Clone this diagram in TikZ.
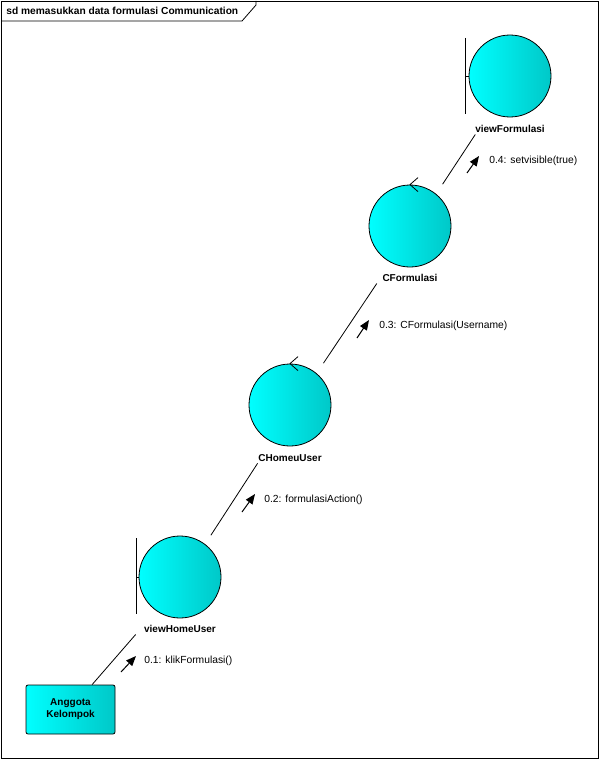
\documentclass[tikz,border=0pt]{standalone}
\usepackage{fontspec}
\setmainfont{Liberation Sans}
\usetikzlibrary{arrows.meta,fit}

\definecolor{objlight}{RGB}{0,255,255}
\definecolor{objdark}{RGB}{0,200,200}

\begin{document}
\begin{tikzpicture}[ x=1pt, y=-1pt, line width=0.8pt, >=Stealth,
    font=\fontsize{10.3}{12}\selectfont,
    obj/.style={circle, draw, minimum size=82pt, inner sep=0pt, left color=objlight, right color=objdark},
    actorbox/.style={draw, rounded corners=2pt, minimum width=89pt, minimum height=49pt, left color=objlight, right color=objdark, align=center, font=\fontsize{10}{12}\selectfont\bfseries},
    objname/.style={inner sep=1pt, font=\fontsize{10}{12}\selectfont\bfseries},
    elem/.style={inner sep=0pt},
    msg/.style={-{Triangle[length=10pt,width=8pt]}, line width=1pt},
    msglabel/.style={anchor=west, inner sep=0pt} ]
    \useasboundingbox (0,0) rectangle (600,760);

    % Frame
    \draw (1,1) rectangle (598.5,758.5);
    \draw (1,21) -- (242,21) -- (256,5) -- (256,1);
    \node[anchor=west, inner sep=0pt, font=\fontsize{10.2}{12}\selectfont\bfseries] (title) at (6,11) {sd memasukkan data formulasi Communication};

    % --- viewFormulasi (boundary) ---
    \node[obj] (vf) at (510,76) {};
    \node[objname] (vfl) at (510,129) {viewFormulasi};
    \coordinate (vfbar1) at (465,38);
    \coordinate (vfbar2) at (465,114);
    \draw (vfbar1) -- (vfbar2);
    \draw (465,76) -- (vf.west);
    \node[elem, fit=(vf)(vfl)(vfbar1)(vfbar2)] (vfbox) {};

    % --- CFormulasi (control) ---
    \node[obj] (cf) at (410,226) {};
    \node[objname] (cfl) at (410,278) {CFormulasi};
    \draw ([shift={(8,-7)}]cf.north) -- (cf.north) -- ([shift={(8,7)}]cf.north);
    \node[elem, fit=(cf)(cfl)] (cfbox) {};

    % --- CHomeuUser (control) ---
    \node[obj] (chu) at (290,405) {};
    \node[objname] (chul) at (290,458) {CHomeuUser};
    \draw ([shift={(8,-7)}]chu.north) -- (chu.north) -- ([shift={(8,7)}]chu.north);
    \node[elem, fit=(chu)(chul)] (chubox) {};

    % --- viewHomeUser (boundary) ---
    \node[obj] (vhu) at (180,577) {};
    \node[objname] (vhul) at (180,629) {viewHomeUser};
    \coordinate (vhubar1) at (136,538);
    \coordinate (vhubar2) at (136,614);
    \draw (vhubar1) -- (vhubar2);
    \draw (136,577) -- (vhu.west);
    \node[elem, fit=(vhu)(vhul)(vhubar1)(vhubar2)] (vhubox) {};

    % --- Actor ---
    \node[actorbox] (act) at (70.5,709.5) {Anggota\\Kelompok};

    % Links
    \draw (act) -- (vhubox);
    \draw (vhubox) -- (chubox);
    \draw (chubox) -- (cfbox);
    \draw (cfbox) -- (vfbox);

    % Messages
    \coordinate (m1a) at (121,672); \coordinate (m1b) at (136,656);
    \draw[msg] (m1a) -- (m1b);
    \node[msglabel] (m1) at (144,661) {0.1: klikFormulasi()};

    \coordinate (m2a) at (242,512); \coordinate (m2b) at (255,494);
    \draw[msg] (m2a) -- (m2b);
    \node[msglabel] (m2) at (264,500) {0.2: formulasiAction()};

    \coordinate (m3a) at (357,338); \coordinate (m3b) at (369,320);
    \draw[msg] (m3a) -- (m3b);
    \node[msglabel] (m3) at (379,326) {0.3: CFormulasi(Username)};

    \coordinate (m4a) at (467,173); \coordinate (m4b) at (479,156);
    \draw[msg] (m4a) -- (m4b);
    \node[msglabel] (m4) at (489,161) {0.4: setvisible(true)};
\end{tikzpicture}
\end{document}
